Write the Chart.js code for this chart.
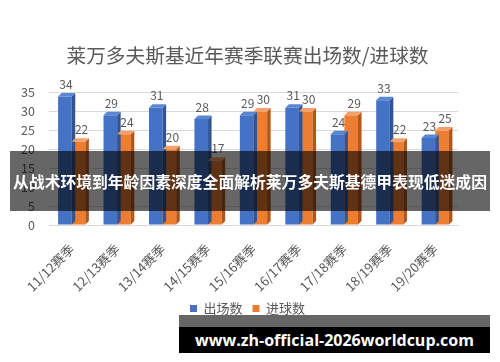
<!DOCTYPE html>
<html>
<head>
<meta charset="utf-8">
<script src="https://cdn.jsdelivr.net/npm/chart.js@4/dist/chart.umd.min.js"></script>
<style>
  html, body { margin: 0; padding: 0; background: #fff; }
  #wrap { position: relative; width: 500px; height: 362px; overflow: hidden; }
  #banner {
    position: absolute; left: 10px; top: 151px; width: 480px; height: 60px;
    background: rgba(0, 0, 0, 0.6); color: #fff;
    font: bold 15.8px "Noto Sans CJK SC", sans-serif;
    display: flex; align-items: center; justify-content: center; white-space: nowrap;
  }
  #urlbar {
    position: absolute; left: 179px; top: 315px; width: 311px; height: 12px;
    background: rgba(0, 0, 0, 0.6);
  }
  #url {
    position: absolute; left: 179px; top: 327px; width: 311px; height: 26px;
    background: #000; color: #fff;
    font: bold 16px "Open Sans", sans-serif;
    display: flex; align-items: center; justify-content: center; white-space: nowrap;
  }
</style>
</head>
<body>
<div id="wrap">
  <canvas id="chart" width="500" height="362"></canvas>
  <div id="banner">从战术环境到年龄因素深度全面解析莱万多夫斯基德甲表现低迷成因</div>
  <div id="urlbar"></div>
  <div id="url">www.zh-official-2026worldcup.com</div>
</div>
<script>
const seasons = ["11/12赛季", "12/13赛季", "13/14赛季", "14/15赛季", "15/16赛季", "16/17赛季", "17/18赛季", "18/19赛季", "19/20赛季"];
const apps = [34, 29, 31, 28, 29, 31, 24, 33, 23];
const goals = [22, 24, 20, 17, 30, 30, 29, 22, 25];
const yTicks = [0, 5, 10, 15, 20, 25, 30, 35];

const sideColors = ["#2F5597", "#B4561A"];
const topColors = ["#5B86D4", "#F4A06A"];

// fake 3D: side + top faces from each bar's own geometry
const bars3d = {
  id: "bars3d",
  afterDatasetsDraw(chart) {
    const ctx = chart.ctx;
    const d = 3.5;
    chart.data.datasets.forEach((ds, i) => {
      chart.getDatasetMeta(i).data.forEach(bar => {
        const w = bar.width, x0 = bar.x - w / 2, x1 = bar.x + w / 2;
        const top = bar.y, base = bar.base;
        ctx.save();
        ctx.fillStyle = sideColors[i];
        ctx.beginPath();
        ctx.moveTo(x1, top); ctx.lineTo(x1 + d, top - d);
        ctx.lineTo(x1 + d, base - d); ctx.lineTo(x1, base);
        ctx.closePath(); ctx.fill();
        ctx.fillStyle = topColors[i];
        ctx.beginPath();
        ctx.moveTo(x0, top); ctx.lineTo(x0 + d, top - d);
        ctx.lineTo(x1 + d, top - d); ctx.lineTo(x1, top);
        ctx.closePath(); ctx.fill();
        ctx.restore();
      });
    });
  }
};

const valueLabels = {
  id: "valueLabels",
  afterDatasetsDraw(chart) {
    const ctx = chart.ctx;
    ctx.save();
    ctx.font = "12px 'Noto Sans CJK SC', sans-serif";
    ctx.fillStyle = "#595959";
    ctx.textAlign = "center";
    ctx.textBaseline = "bottom";
    chart.data.datasets.forEach((ds, i) => {
      chart.getDatasetMeta(i).data.forEach((bar, j) => {
        ctx.fillText(ds.data[j], bar.x + 1 + i * 2, bar.y - 6);
      });
    });
    ctx.restore();
  }
};

new Chart(document.getElementById("chart"), {
  type: "bar",
  data: {
    labels: seasons,
    datasets: [
      { label: "出场数", data: apps, backgroundColor: "#4472C4" },
      { label: "进球数", data: goals, backgroundColor: "#ED7D31" }
    ]
  },
  options: {
    responsive: false,
    animation: false,
    layout: { padding: { top: 44, right: 42, left: 37, bottom: 37 } },
    datasets: { bar: { categoryPercentage: 0.6, barPercentage: 1 } },
    plugins: {
      title: {
        display: true,
        text: "莱万多夫斯基近年赛季联赛出场数/进球数",
        color: "#595959",
        font: { family: "Noto Sans CJK SC", size: 19.7, weight: "normal" },
        padding: { top: 0, bottom: 25 }
      },
      legend: {
        position: "bottom",
        labels: {
          boxWidth: 7, boxHeight: 7, color: "#595959",
          font: { family: "Noto Sans CJK SC", size: 13 }
        }
      },
      tooltip: { enabled: false }
    },
    scales: {
      x: {
        grid: { display: false },
        border: { color: "#d9d9d9" },
        afterFit(axis) { axis.height = 67; axis.paddingLeft = 0; },
        ticks: {
          color: "#595959", maxRotation: 45, minRotation: 45, padding: 8,
          font: { family: "Noto Sans CJK SC", size: 13 }
        }
      },
      y: {
        min: 0, max: 35,
        afterBuildTicks(axis) { axis.ticks = yTicks.map(v => ({ value: v })); },
        afterFit(axis) { axis.width = 12; },
        grid: { color: "#d9d9d9", drawTicks: false },
        border: { display: false },
        ticks: {
          color: "#595959", mirror: true, crossAlign: "far", padding: -28,
          font: { family: "Noto Sans CJK SC", size: 12.5 }
        }
      }
    }
  },
  plugins: [bars3d, valueLabels]
});
</script>
</body>
</html>
